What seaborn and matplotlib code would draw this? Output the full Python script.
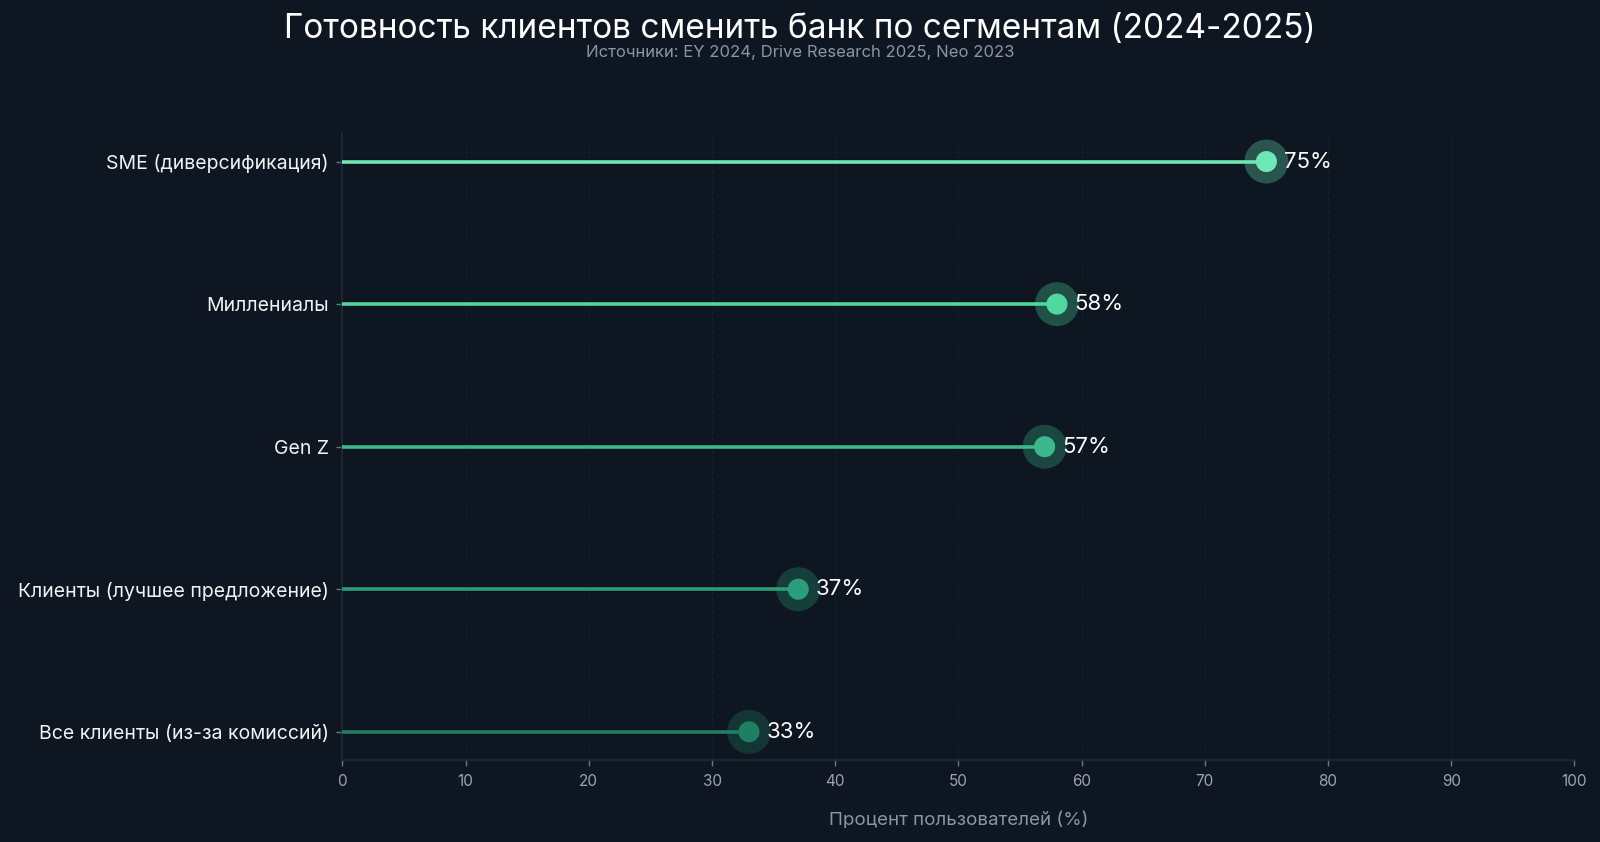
import matplotlib
matplotlib.use("Agg")
import matplotlib.pyplot as plt
import seaborn as sns
import pandas as pd

sns.set_theme(style="dark")
plt.rcParams['font.family'] = ['Inter', 'DejaVu Sans']

segments = ["SME (диверсификация)", "Миллениалы", "Gen Z",
            "Клиенты (лучшее предложение)", "Все клиенты (из-за комиссий)"]
values = [75, 58, 57, 37, 33]
colors = ["#6ee7b7", "#4fd8a0", "#3bb98c", "#2a9e7b", "#1f7f62"]

bg = "#0e1621"
df = pd.DataFrame({"segment": segments, "value": values})
df["pos"] = range(len(df))

fig = plt.figure(figsize=(16, 8.42), dpi=100, facecolor=bg)
ax = fig.add_axes([0.214, 0.097, 0.77, 0.745], facecolor=bg)

# stems
for i, row in df.iterrows():
    ax.hlines(row["pos"], 0, row["value"], color="#0a1018", linewidth=4.5, alpha=0.6, zorder=2)
    ax.hlines(row["pos"], 0, row["value"], color=colors[i], linewidth=2.6, zorder=3)

# halo + dot
sns.scatterplot(data=df, x="value", y="pos", hue="segment", palette=colors,
                s=1000, alpha=0.3, linewidth=0, legend=False, ax=ax, zorder=4)
sns.scatterplot(data=df, x="value", y="pos", hue="segment", palette=colors,
                s=230, linewidth=0, legend=False, ax=ax, zorder=5)

for i, row in df.iterrows():
    ax.text(row["value"] + 1.4, row["pos"], f"{row['value']}%", color="white",
            fontsize=16, va="center", ha="left", zorder=6)

ax.set_xlim(0, 100)
ax.set_ylim(4.2, -0.2)
ax.set_xticks(range(0, 101, 10))
ax.set_yticks(df["pos"])
ax.set_yticklabels(segments)
ax.tick_params(axis="x", colors="#6b7584", labelcolor="#9aa3b0", labelsize=11,
               length=4, width=1, bottom=True, pad=6)
ax.tick_params(axis="y", colors="#6b7584", labelcolor="#f0f2f5", labelsize=14,
               length=4, width=1, left=True, pad=6)
ax.xaxis.grid(True, color="#17232c", linestyle=(0, (3, 3)), linewidth=0.8)
ax.yaxis.grid(False)
for side in ["top", "right"]:
    ax.spines[side].set_visible(False)
for side in ["left", "bottom"]:
    ax.spines[side].set_color("#1f2a36")
    ax.spines[side].set_linewidth(1.2)

ax.set_xlabel("Процент пользователей (%)", color="#8b95a5", fontsize=13.5, labelpad=16)
ax.set_ylabel("")

fig.text(0.5, 0.966, "Готовность клиентов сменить банк по сегментам (2024-2025)",
         color="white", fontsize=24, ha="center", va="center")
fig.text(0.5, 0.938, "Источники: EY 2024, Drive Research 2025, Neo 2023",
         color="#8b95a5", fontsize=12, ha="center", va="center")

fig.savefig("out.png", dpi=100, facecolor=bg)
